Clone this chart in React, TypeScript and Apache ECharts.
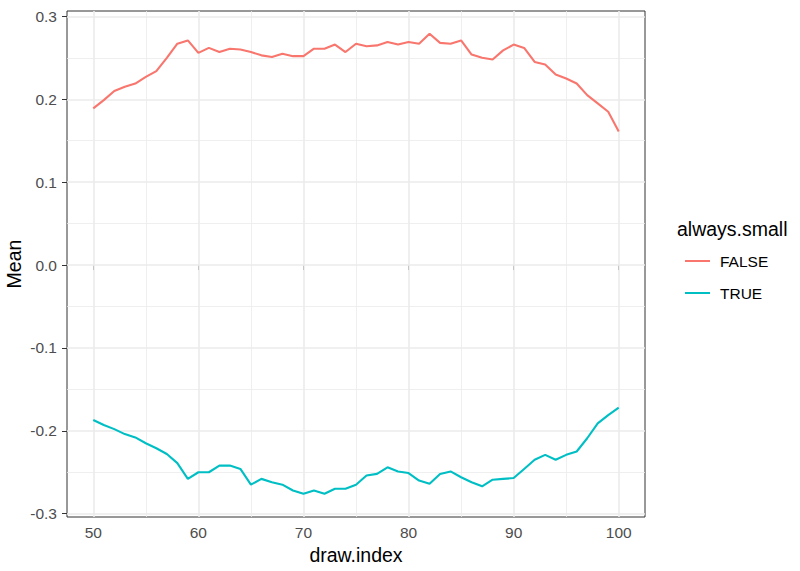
import * as echarts from "echarts";
import { useEffect, useRef } from "react";

const drawIndex = [
	50, 51, 52, 53, 54, 55, 56, 57, 58, 59, 60, 61, 62, 63, 64, 65, 66, 67, 68, 69, 70, 71, 72, 73, 74, 75,
	76, 77, 78, 79, 80, 81, 82, 83, 84, 85, 86, 87, 88, 89, 90, 91, 92, 93, 94, 95, 96, 97, 98, 99, 100
];

const meanFalse = [
	0.189, 0.199, 0.21, 0.215, 0.219, 0.227, 0.234, 0.25, 0.267, 0.271, 0.256, 0.262, 0.257, 0.261, 0.26, 0.257,
	0.253, 0.251, 0.255, 0.252, 0.252, 0.261, 0.261, 0.266, 0.257, 0.267, 0.264, 0.265, 0.269, 0.266, 0.269, 0.267,
	0.279, 0.268, 0.267, 0.271, 0.254, 0.25, 0.248, 0.259, 0.266, 0.262, 0.245, 0.242, 0.23, 0.225, 0.219, 0.205,
	0.195, 0.185, 0.161
];

const meanTrue = [
	-0.187, -0.193, -0.198, -0.204, -0.208, -0.215, -0.221, -0.228, -0.239, -0.258, -0.25, -0.25, -0.242, -0.242,
	-0.246, -0.265, -0.258, -0.262, -0.265, -0.272, -0.276, -0.272, -0.276, -0.27, -0.27, -0.265, -0.254, -0.252,
	-0.244, -0.249, -0.251, -0.26, -0.264, -0.252, -0.249, -0.256, -0.262, -0.267, -0.259, -0.258, -0.257, -0.246,
	-0.235, -0.229, -0.235, -0.229, -0.225, -0.209, -0.191, -0.181, -0.172
];

const groups = ["FALSE", "TRUE"];
const xBreaks = [50, 60, 70, 80, 90, 100];
const xMinorBreaks = [55, 65, 75, 85, 95];
const yBreaks = [-0.3, -0.2, -0.1, 0, 0.1, 0.2, 0.3];
const yMinorBreaks = [-0.25, -0.15, -0.05, 0.05, 0.15, 0.25];

const FONT = "'Liberation Sans', Arial, sans-serif";
const colors = ["#F8766D", "#00BFC4"];

export default function App() {
	const chartRef = useRef<HTMLDivElement>(null);

	useEffect(() => {
		if (!chartRef.current) return;
		const chart = echarts.init(chartRef.current, null, { renderer: "svg" });

		const major = { color: "#EBEBEB", width: 1.6, type: "solid" };
		const minor = { color: "#EBEBEB", width: 0.8, type: "solid" };

		// ggplot-style panel grid, drawn below the data lines
		const gridLines = [
			...xMinorBreaks.map(v => ({ xAxis: v, lineStyle: minor })),
			...yMinorBreaks.map(v => ({ yAxis: v, lineStyle: minor })),
			...xBreaks.map(v => ({ xAxis: v, lineStyle: major })),
			...yBreaks.map(v => ({ yAxis: v, lineStyle: major }))
		];

		const option: echarts.EChartsCoreOption = {
			animation: false,
			backgroundColor: "#FFFFFF",
			textStyle: { fontFamily: FONT },
			grid: {
				left: 67,
				top: 11,
				width: 578,
				height: 506,
				containLabel: false,
				outerBoundsMode: "none",
				show: true,
				backgroundColor: "#FFFFFF",
				borderColor: "#333333",
				borderWidth: 1
			},
			xAxis: {
				type: "value",
				min: 47.5,
				max: 102.5,
				name: "draw.index",
				nameLocation: "middle",
				nameGap: 28,
				nameMoveOverlap: false,
				nameTextStyle: { color: "#000000", fontSize: 19.5, fontFamily: FONT },
				axisLine: { show: false },
				axisTick: { show: true, length: 5, customValues: xBreaks, lineStyle: { color: "#333333", width: 1 } },
				axisLabel: { customValues: xBreaks, color: "#4D4D4D", fontSize: 15.5, margin: 7, fontFamily: FONT },
				splitLine: { show: false }
			},
			yAxis: {
				type: "value",
				min: -0.304,
				max: 0.3065,
				name: "Mean",
				nameLocation: "middle",
				nameGap: 43,
				nameMoveOverlap: false,
				nameTextStyle: { color: "#000000", fontSize: 19.5, fontFamily: FONT },
				axisLine: { show: false },
				axisTick: { show: true, length: 5, customValues: yBreaks, lineStyle: { color: "#333333", width: 1 } },
				axisLabel: {
					customValues: yBreaks,
					color: "#4D4D4D",
					fontSize: 15.5,
					margin: 10,
					fontFamily: FONT,
					formatter: (v: number) => v.toFixed(1)
				},
				splitLine: { show: false }
			},
			legend: {
				data: groups,
				orient: "vertical",
				left: 679,
				top: 248,
				itemWidth: 25,
				itemHeight: 14,
				itemGap: 16,
				itemStyle: { opacity: 0 },
				lineStyle: { width: 2 },
				textStyle: { color: "#000000", fontSize: 15.5, fontFamily: FONT, padding: [0, 0, 0, 5] }
			},
			graphic: [
				{
					type: "text",
					left: 677,
					top: 219,
					style: { text: "always.small", fill: "#000000", font: `19.5px ${FONT}` }
				}
			],
			series: [
				{
					name: "gridlines",
					type: "line",
					data: [],
					z: 1,
					silent: true,
					markLine: {
						z: 1,
						silent: true,
						symbol: ["none", "none"],
						label: { show: false },
						animation: false,
						data: gridLines
					}
				},
				...groups.map((g, i) => ({
					name: g,
					type: "line",
					z: 3,
					data: drawIndex.map((x, j) => [x, i === 0 ? meanFalse[j] : meanTrue[j]]),
					showSymbol: false,
					symbol: "none",
					color: colors[i],
					lineStyle: { color: colors[i], width: 2.1 }
				}))
			]
		};

		chart.setOption(option);
		return () => chart.dispose();
	}, []);

	return (
		<div
			ref={chartRef}
			style={{ position: "absolute", left: 0, top: 0, width: 800, height: 571 }}
		/>
	);
}
